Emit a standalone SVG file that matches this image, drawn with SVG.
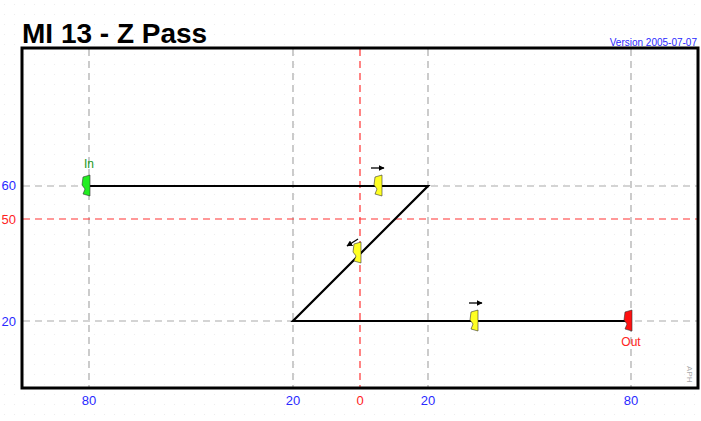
<svg xmlns="http://www.w3.org/2000/svg" width="701" height="421" viewBox="0 0 701 421">
<style>
text{font-family:"Liberation Sans",Arial,sans-serif}
.grid{stroke:#aaaaaa;stroke-width:1.2;stroke-dasharray:7 5;fill:none}
.axis0{stroke:#ff3333;stroke-width:1.2;stroke-dasharray:7 5;fill:none}
.path{stroke:#000;stroke-width:2.2;fill:none}
.lbl{font-size:13px;fill:#2a2aff;text-anchor:middle}
.lblr{font-size:13px;fill:#ff2222;text-anchor:middle}
.ylbl{font-size:13px;fill:#2a2aff;text-anchor:end}
.mk{stroke:#333;stroke-width:0.6}
.arr{stroke:#000;stroke-width:1.3;fill:none;marker-end:url(#ah)}
</style>
<defs>
<pattern id="dots" width="10" height="10" patternUnits="userSpaceOnUse">
<rect x="4" y="4" width="1" height="1" fill="#ececec"/>
</pattern>
<marker id="ah" viewBox="0 0 10 10" refX="9" refY="5" markerWidth="6" markerHeight="6" orient="auto" markerUnits="userSpaceOnUse">
<path d="M0,0 L10,5 L0,10 Z" fill="#000"/>
</marker>
<path id="flag" d="M-7,-9 L0,-11 L0,10 L-7,8 L-5,3 L-8,-1 Z"/>
</defs>
<rect width="701" height="421" fill="#fff"/>
<rect width="701" height="421" fill="url(#dots)"/>
<g id="title"><text x="22" y="43" font-size="28" font-weight="bold" fill="#000">MI 13 - Z Pass</text></g>
<g id="version"><text x="697" y="46" font-size="10" fill="#2a2aff" text-anchor="end">Version 2005-07-07</text></g>
<g id="grid">
<line class="grid" x1="89" y1="49" x2="89" y2="387"/>
<line class="grid" x1="293" y1="49" x2="293" y2="387"/>
<line class="grid" x1="428" y1="49" x2="428" y2="387"/>
<line class="grid" x1="631" y1="49" x2="631" y2="387"/>
<line class="axis0" x1="360" y1="49" x2="360" y2="387"/>
<line class="grid" x1="23" y1="186" x2="697" y2="186"/>
<line class="grid" x1="23" y1="321" x2="697" y2="321"/>
<line class="axis0" x1="23" y1="219" x2="697" y2="219"/>
</g>
<rect id="frame" x="22" y="48" width="676" height="340" fill="none" stroke="#000" stroke-width="3"/>
<g id="axis-labels">
<text class="ylbl" x="16" y="190">60</text>
<text class="ylbl" x="16" y="224" style="fill:#ff2222">50</text>
<text class="ylbl" x="16" y="326">20</text>
<text class="lbl" x="89" y="405">80</text>
<text class="lbl" x="293" y="405">20</text>
<text class="lblr" x="360" y="405">0</text>
<text class="lbl" x="428" y="405">20</text>
<text class="lbl" x="631" y="405">80</text>
</g>
<g id="connectors">
<polyline class="path" points="89,186 428,186 293,321 631,321"/>
<line class="arr" x1="371" y1="168" x2="384" y2="168"/>
<line class="arr" x1="358" y1="239" x2="347" y2="246"/>
<line class="arr" x1="469" y1="303" x2="482" y2="303"/>
</g>
<g id="in">
<use href="#flag" x="90" y="186" fill="#22ee22" class="mk"/>
<text x="89" y="168" font-size="12" fill="#229922" text-anchor="middle">In</text>
</g>
<g id="m1"><use href="#flag" x="382" y="186" fill="#ffff22" class="mk"/></g>
<g id="m2"><use href="#flag" x="361" y="253" fill="#ffff22" class="mk"/></g>
<g id="m3"><use href="#flag" x="478" y="321" fill="#ffff22" class="mk"/></g>
<g id="out">
<use href="#flag" x="632" y="321" fill="#ff1111" class="mk"/>
<text x="631" y="346" font-size="12" fill="#ff2222" text-anchor="middle">Out</text>
</g>
<g id="aph"><text x="0" y="0" font-size="8" fill="#aaaaaa" transform="translate(687,366) rotate(90)">APH</text></g>
</svg>
